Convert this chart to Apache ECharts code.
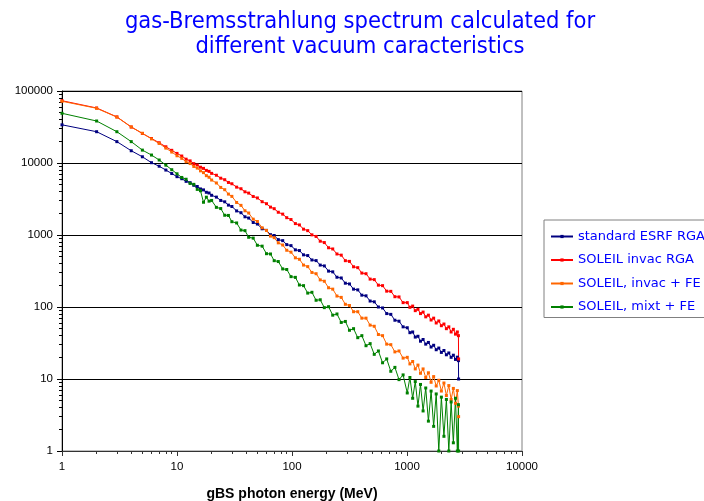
<!DOCTYPE html>
<html>
<head>
<meta charset="utf-8">
<title>gas-Bremsstrahlung spectrum</title>
<script src="https://cdn.jsdelivr.net/npm/echarts@6/dist/echarts.min.js"></script>
<style>
    html, body { margin: 0; padding: 0; background: #fff; }
    #chart { width: 704px; height: 501px; }
</style>
</head>
<body>
<div id="chart"></div>
<script>
// photon energy (MeV), shared by the four spectra
const energy = [1, 2, 3, 4, 5, 6, 7, 8, 9, 10,
    11, 12, 13, 14, 15, 16, 17, 18, 19, 20,
    22, 24, 26, 28, 30, 33, 36, 39, 42, 46, 50, 55, 60, 65, 70, 76, 83, 90, 98,
    107, 116, 126, 137, 149, 162, 176, 191, 208, 226, 246, 268, 291, 316, 343, 373, 405, 440, 478, 519, 564, 613, 666, 723, 785, 852, 925,
    1005, 1060, 1120, 1180, 1245, 1310, 1380, 1455, 1535, 1620, 1705, 1795, 1890, 1990, 2095, 2200, 2310, 2420, 2530, 2640, 2740, 2800, 2810];

const standardEsrfRga = [33900, 27200, 19800, 14800, 12200, 10100, 9020, 7980, 7140, 6460,
    6050, 5560, 5330, 4900, 4720, 4360, 4230, 3920, 3830, 3560,
    3360, 3020, 2890, 2600, 2490, 2160, 2040, 1790, 1720, 1490, 1420, 1220, 1160, 1010, 985, 862, 835, 735, 712,
    622, 608, 530, 518, 450, 441, 382, 372, 315, 308, 259, 253, 214, 209, 177, 173, 146, 143, 121, 118, 100, 97, 81, 79, 65.5, 63.5, 53,
    51.5, 44, 45, 38.2, 39.2, 33.5, 35.4, 30.5, 32.2, 27.8, 29.4, 25.5, 26.9, 23.4, 24.9, 21.7, 23, 20, 21.4, 18.7, 20.1, 18, 10];

const soleilInvacRga = [73300, 58100, 43700, 31600, 25700, 21900, 19100, 16800, 15000, 13600,
    12500, 11300, 10700, 9800, 9380, 8740, 8420, 7900, 7650, 7180,
    6760, 6150, 5860, 5370, 5150, 4620, 4390, 3980, 3820, 3430, 3270, 2900, 2720, 2440, 2320, 2070, 1950, 1740, 1640,
    1440, 1380, 1205, 1150, 1005, 955, 820, 785, 665, 640, 545, 525, 440, 430, 362, 352, 296, 290, 244, 240, 201, 198, 166, 165, 139, 138, 115,
    115, 99, 103, 89, 93, 81, 85, 73, 77, 66, 70, 60, 64, 55, 58, 50, 53, 45, 49, 42, 45, 40, 19];

const soleilInvacFe = [72000, 57500, 43400, 31700, 25900, 21600, 18700, 16100, 14200, 12600,
    11600, 10400, 9820, 8950, 8500, 7780, 7350, 6670, 6340, 5800,
    5280, 4580, 4260, 3700, 3440, 2830, 2580, 2170, 2020, 1660, 1540, 1260, 1155, 965, 918, 778, 726, 614, 578,
    482, 460, 382, 364, 302, 290, 238, 228, 185, 177, 142, 136, 109, 105, 86, 86, 70, 70, 56, 54, 41.5, 40, 30.5, 30, 23.8, 24.5, 19.5,
    20, 16.2, 17.5, 13.8, 15.6, 12, 13.8, 10.5, 12.2, 9, 10.8, 8, 9.6, 6.8, 8.8, 5.9, 8.1, 5.2, 7.4, 4.6, 6.9, 4.2, 3];

const soleilMixtFe = [49000, 38300, 27200, 19800, 15100, 12900, 11000, 9330, 8070, 7080,
    6300, 5950, 5200, 5050, 4300, 4120, 2850, 3350, 2950, 3020,
    2420, 2330, 1880, 1870, 1530, 1470, 1170, 1150, 930, 905, 720, 700, 550, 545, 440, 428, 338, 332, 264,
    258, 202, 198, 156, 160, 124, 126, 98, 101, 77, 80, 61, 63, 47.5, 50, 37.5, 40, 29, 31, 22, 24.5, 16.8, 19, 12.8, 14.5, 9.8, 11.4,
    6.4, 10.5, 5.4, 9.2, 4.2, 8.4, 3.6, 7.5, 2.6, 6.8, 2.2, 6.2, 1, 5.6, 1.6, 5.2, 1, 4.8, 1.3, 5.4, 1, 4.4, 1];

const seriesNames = ["standard ESRF RGA", "SOLEIL invac RGA", "SOLEIL, invac + FE", "SOLEIL, mixt + FE"];
const seriesValues = [standardEsrfRga, soleilInvacRga, soleilInvacFe, soleilMixtFe];
const seriesColors = ["#000080", "#ff0000", "#ff6600", "#008000"];

// minor tick positions 2..9 of every decade
const xMinorTicks = [];
for (let d = 1; d < 10000; d *= 10) {
    for (let k = 2; k <= 9; k++) xMinorTicks.push(k * d);
}
const yMinorTicks = [];
for (let d = 1; d < 100000; d *= 10) {
    for (let k = 2; k <= 9; k++) yMinorTicks.push(k * d);
}

const labelFont = "Liberation Sans, Arial, sans-serif";
const plainNumber = v => String(Math.round(v));

const chart = echarts.init(document.getElementById("chart"));
chart.setOption({
    animation: false,
    backgroundColor: "#fff",
    title: {
        text: "gas-Bremsstrahlung spectrum calculated for\ndifferent vacuum caracteristics",
        left: 355,
        textAlign: "center",
        top: 4,
        textStyle: {
            color: "#0000ff",
            fontFamily: "DejaVu Sans Condensed, DejaVu Sans, sans-serif",
            fontSize: 23.5,
            fontWeight: "normal",
            lineHeight: 25
        }
    },
    legend: {
        orient: "vertical",
        left: 544,
        top: 220,
        padding: [10, 10, 4, 6],
        itemGap: 10.5,
        itemWidth: 22,
        itemHeight: 4,
        backgroundColor: "#fff",
        borderColor: "#808080",
        borderWidth: 1,
        borderRadius: 0,
        textStyle: {
            color: "#0000ff",
            fontFamily: "Comic Sans MS, DejaVu Sans, sans-serif",
            fontSize: 13
        },
        data: seriesNames
    },
    grid: {
        left: 62,
        top: 91,
        width: 460,
        height: 360,
        show: true,
        borderColor: "#808080",
        borderWidth: 1,
        backgroundColor: "#fff",
        outerBoundsMode: "none"
    },
    xAxis: [
        {
            type: "log",
            logBase: 10,
            min: 1,
            max: 10000,
            name: "gBS photon energy (MeV)",
            nameLocation: "middle",
            nameGap: 36,
            nameTextStyle: {
                color: "#000",
                fontFamily: labelFont,
                fontSize: 14,
                fontWeight: "bold"
            },
            axisLine: { show: true, lineStyle: { color: "#333", width: 1 } },
            axisTick: { show: true, inside: false, length: 5, lineStyle: { color: "#333" } },
            axisLabel: { color: "#000", fontFamily: labelFont, fontSize: 11.5, margin: 10, formatter: plainNumber },
            splitLine: { show: false },
            minorTick: { show: false }
        },
        {
            type: "log",
            logBase: 10,
            min: 1,
            max: 10000,
            position: "bottom",
            axisLine: { show: false },
            axisTick: { show: true, inside: false, length: 3, customValues: xMinorTicks, lineStyle: { color: "#333" } },
            axisLabel: { show: false },
            splitLine: { show: false }
        }
    ],
    yAxis: [
        {
            type: "log",
            logBase: 10,
            min: 1,
            max: 100000,
            axisLine: { show: true, lineStyle: { color: "#000", width: 1 } },
            axisTick: { show: true, inside: false, length: 5, lineStyle: { color: "#000" } },
            axisLabel: { color: "#000", fontFamily: labelFont, fontSize: 11.5, margin: 9, formatter: plainNumber },
            splitLine: { show: true, lineStyle: { color: "#000", width: 1 } }
        },
        {
            type: "log",
            logBase: 10,
            min: 1,
            max: 100000,
            position: "left",
            axisLine: { show: false },
            axisTick: { show: true, inside: false, length: 3, customValues: yMinorTicks, lineStyle: { color: "#000" } },
            axisLabel: { show: false },
            splitLine: { show: false }
        }
    ],
    series: seriesNames.map((name, i) => ({
        name: name,
        type: "line",
        xAxisIndex: 0,
        yAxisIndex: 0,
        data: energy.map((e, j) => [e, seriesValues[i][j]]),
        symbol: "rect",
        symbolSize: 3,
        showSymbol: true,
        color: seriesColors[i],
        lineStyle: { color: seriesColors[i], width: 1 },
        itemStyle: { color: seriesColors[i] },
        emphasis: { disabled: true }
    }))
});
</script>
</body>
</html>
